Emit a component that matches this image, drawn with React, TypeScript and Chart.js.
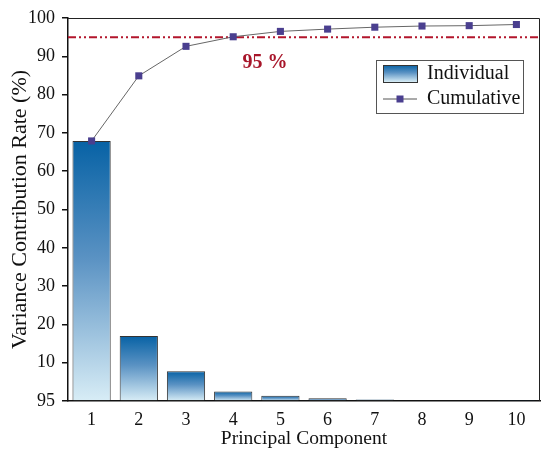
import React, { useEffect, useRef } from "react";
import { Chart, registerables } from "chart.js";

Chart.register(...registerables);

// values
const components = ["1", "2", "3", "4", "5", "6", "7", "8", "9", "10"];
const individual = [67.9, 17.0, 7.8, 2.5, 1.4, 0.7, 0.4, 0.2, 0.2, 0.1];
const cumulative = [67.9, 84.9, 92.6, 95.1, 96.5, 97.1, 97.6, 97.9, 98.0, 98.3];
const yTickLabels = ["95", "10", "20", "30", "40", "50", "60", "70", "80", "90", "100"];
const threshold = 95;
const thresholdLabel = "95 %";

const FONT = '"Liberation Serif", "Times New Roman", serif';

function barGradient(c: CanvasRenderingContext2D, top: number, bottom: number) {
    const g = c.createLinearGradient(0, top, 0, bottom);
    g.addColorStop(0, "#0762a5");
    g.addColorStop(0.45, "#5a92c3");
    g.addColorStop(1, "#d8edf6");
    return g;
}

const extras = {
    id: "extras",
    beforeDatasetsDraw(chart: any) {
        const {ctx, chartArea} = chart;
        const y = chart.scales.y.getPixelForValue(threshold);
        ctx.save();
        ctx.strokeStyle = "#b3162c";
        ctx.lineWidth = 2;
        ctx.setLineDash([8, 3, 2, 3, 2, 3]);
        ctx.beginPath();
        ctx.moveTo(chartArea.left, y);
        ctx.lineTo(chartArea.right, y);
        ctx.stroke();
        ctx.restore();
    },
    afterDraw(chart: any) {
        const {ctx, chartArea} = chart;
        ctx.save();
        // top and right frame
        ctx.strokeStyle = "#222";
        ctx.lineWidth = 1;
        ctx.beginPath();
        ctx.moveTo(chartArea.left, chartArea.top + 0.5);
        ctx.lineTo(chartArea.right - 0.5, chartArea.top + 0.5);
        ctx.lineTo(chartArea.right - 0.5, chartArea.bottom);
        ctx.stroke();

        // threshold label
        ctx.fillStyle = "#a8162a";
        ctx.font = `bold 20px ${FONT}`;
        ctx.textAlign = "center";
        ctx.textBaseline = "middle";
        ctx.fillText(thresholdLabel, 265, chart.scales.y.getPixelForValue(threshold) + 26);

        // legend
        const lx = 376, ly = 60, lw = 147, lh = 53;
        ctx.fillStyle = "#fff";
        ctx.fillRect(lx, ly, lw, lh);
        ctx.strokeStyle = "#555";
        ctx.lineWidth = 1;
        ctx.strokeRect(lx + 0.5, ly + 0.5, lw, lh);

        ctx.fillStyle = barGradient(ctx, 65, 82);
        ctx.fillRect(383, 65, 34, 17);
        ctx.strokeStyle = "#333";
        ctx.strokeRect(383.5, 65.5, 34, 17);

        ctx.strokeStyle = "#555";
        ctx.beginPath();
        ctx.moveTo(383, 99);
        ctx.lineTo(417, 99);
        ctx.stroke();
        ctx.fillStyle = "#4a3f8f";
        ctx.fillRect(396.5, 95.5, 7, 7);

        ctx.fillStyle = "#111";
        ctx.font = `20px ${FONT}`;
        ctx.textAlign = "left";
        ctx.fillText("Individual", 427, 74);
        ctx.fillText("Cumulative", 427, 99);
        ctx.restore();
    },
};

const App: React.FC = () => {
    const canvasRef = useRef<HTMLCanvasElement>(null);

    useEffect(() => {
        if (!canvasRef.current) return;
        const chart = new Chart(canvasRef.current, {
            type: "bar",
            data: {
                labels: components,
                datasets: [
                    {
                        type: "line",
                        label: "Cumulative",
                        data: cumulative,
                        borderColor: "#666",
                        borderWidth: 1,
                        pointStyle: "rect",
                        pointRadius: 5,
                        pointBackgroundColor: "#4a3f8f",
                        pointBorderColor: "#4a3f8f",
                        pointBorderWidth: 0,
                        order: 0,
                    },
                    {
                        type: "bar",
                        label: "Individual",
                        data: individual,
                        backgroundColor: (c: any) => {
                            const ch = c.chart;
                            const ys = ch.scales && ch.scales.y;
                            if (!ch.chartArea || !ys || c.type !== "data") return "#3a7fb8";
                            const top = ys.getPixelForValue(individual[c.dataIndex]);
                            const bottom = ys.getPixelForValue(0);
                            if (!(bottom - top > 0.5)) return "#0762a5";
                            return barGradient(ch.ctx, top, bottom);
                        },
                        borderColor: "#333",
                        borderWidth: 1,
                        barPercentage: 0.81,
                        categoryPercentage: 1,
                        order: 1,
                    },
                ],
            },
            options: {
                animation: false,
                responsive: false,
                events: [],
                layout: {padding: {left: 0, top: 18, right: 10, bottom: 0}},
                plugins: {
                    legend: {display: false},
                    tooltip: {enabled: false},
                },
                scales: {
                    x: {
                        grid: {display: false, drawTicks: false},
                        border: {display: true, color: "#111", width: 1.5},
                        ticks: {color: "#111", padding: 8, font: {family: FONT, size: 18}},
                        title: {
                            display: true,
                            text: "Principal Component",
                            color: "#111",
                            font: {family: FONT, size: 19.5},
                            padding: {top: 0, bottom: 15},
                        },
                        afterFit: (s: any) => {
                            s.height = 65;
                        },
                    },
                    y: {
                        min: 0,
                        max: 100,
                        grid: {
                            drawOnChartArea: false,
                            drawTicks: true,
                            tickLength: 6,
                            color: "#111",
                            lineWidth: 1.5,
                        },
                        border: {display: true, color: "#111", width: 1.5},
                        ticks: {
                            stepSize: 10,
                            color: "#111",
                            padding: 7,
                            font: {family: FONT, size: 18},
                            callback: (_v: any, i: number) => yTickLabels[i],
                        },
                        title: {
                            display: true,
                            text: "Variance Contribution Rate (%)",
                            color: "#111",
                            font: {family: FONT, size: 22},
                            padding: {top: 7, bottom: 0},
                        },
                        afterFit: (s: any) => {
                            s.width = 68;
                        },
                    },
                },
            },
            plugins: [extras],
        });
        return () => {
            chart.destroy();
        };
    }, []);

    return (
        <div style={{position: "fixed", left: 0, top: 0, width: 550, height: 466, background: "#fff"}}>
            <canvas ref={canvasRef} width={550} height={466} style={{width: 550, height: 466}}></canvas>
        </div>
    );
};

export default App;
